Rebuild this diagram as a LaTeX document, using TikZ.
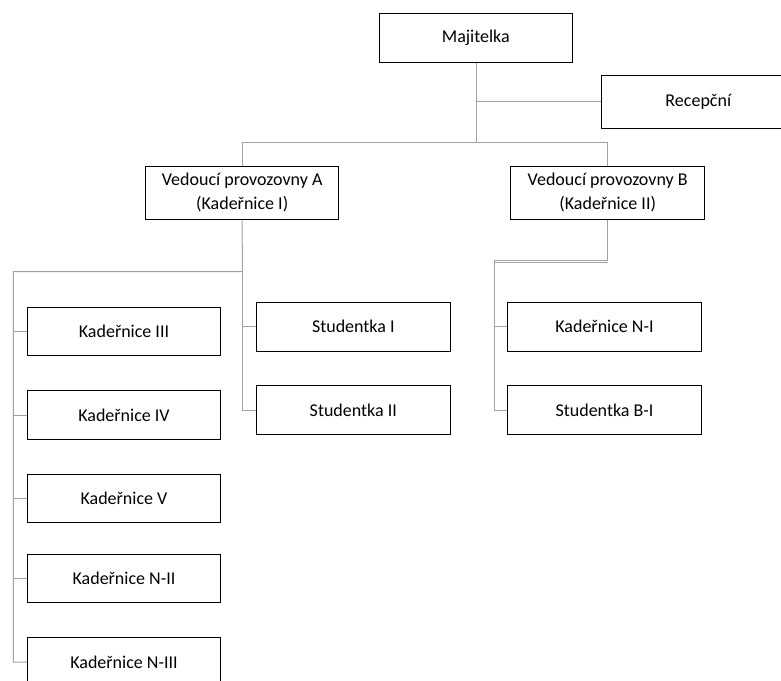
\documentclass[tikz,border=0pt]{standalone}
\usepackage{fontspec}
\setmainfont{Carlito}
\begin{document}
\begin{tikzpicture}[x=1pt,y=-1pt,
  box/.style={draw=black, line width=1pt, fill=white, inner sep=0pt,
    minimum width=193.5pt, font=\fontsize{18}{23.3}\selectfont, align=center},
  link/.style={draw=black!37, line width=1pt}]
\useasboundingbox (0,0) rectangle (781,680);
\clip (0,0) rectangle (781,680);

% top level
\node[box, minimum height=48.7pt] (maj) at (475.8,37.7) {Majitelka};
\node[box, minimum height=53.3pt] (rec) at (698.3,101.7) {Recepční};

% shop managers
\node[box, minimum height=53pt] (veda) at (242.2,192.5) {Vedoucí provozovny A\\(Kadeřnice I)};
\node[box, minimum height=53pt] (vedb) at (607.7,192.5) {Vedoucí provozovny B\\(Kadeřnice II)};

% staff of shop A
\node[box, minimum height=48.4pt] (k3) at (124,331.5) {Kadeřnice III};
\node[box, minimum height=48.4pt] (k4) at (124,415) {Kadeřnice IV};
\node[box, minimum height=48.4pt] (k5) at (124,498.5) {Kadeřnice V};
\node[box, minimum height=48.4pt] (kn2) at (124,578.5) {Kadeřnice N-II};
\node[box, minimum height=48.4pt] (kn3) at (124,662) {Kadeřnice N-III};
\node[box, minimum height=48.7pt] (s1) at (353.3,326.7) {Studentka I};
\node[box, minimum height=48.7pt] (s2) at (353.3,410) {Studentka II};

% staff of shop B
\node[box, minimum height=49pt] (n1) at (604.5,326.8) {Kadeřnice N-I};
\node[box, minimum height=49pt] (sb1) at (604.5,410) {Studentka B-I};

% junction points
\coordinate (jtop) at (476.7,142.7);
\coordinate (ja) at (242.3,271.7);
\coordinate (jl) at (13.3,271.7);
\coordinate (jb) at (607.7,260.7);
\coordinate (jbl) at (494,260.7);

% owner level
\draw[link] (maj.south -| jtop) -- (jtop);
\draw[link] (rec.west) -- (rec.west -| jtop);
\draw[link] (veda.north) |- (jtop) -| (vedb.north);

% shop A
\draw[link] (veda.south) -- (ja) -- (jl) |- (kn3.west);
\draw[link] (ja) |- (s2.west);
\draw[link] (s1.west) -- (s1.west -| ja);
\foreach \n in {k3,k4,k5,kn2}
  \draw[link] (\n.west) -- (\n.west -| jl);

% shop B
\draw[link] (vedb.south) -- (jb) -- (jbl) |- (sb1.west);
\draw[link] ([yshift=-1.8pt]jbl) -- ([yshift=-1.8pt]jb);
\draw[link] (n1.west) -- (n1.west -| jbl);
\end{tikzpicture}
\end{document}
